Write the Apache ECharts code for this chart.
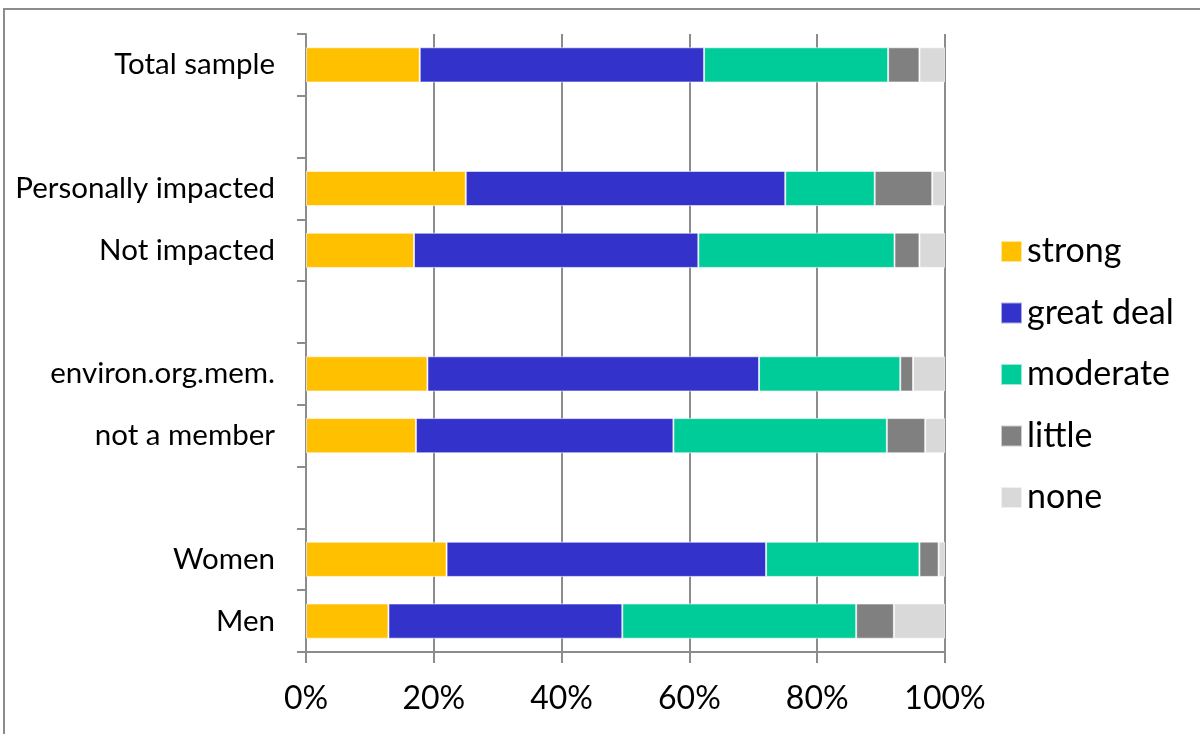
<!DOCTYPE html>
<html>
<head>
<meta charset="utf-8">
<script src="https://cdn.jsdelivr.net/npm/echarts@6/dist/echarts.min.js"></script>
<style>html,body{margin:0;padding:0;background:#fff;}#c{width:1200px;height:734px;}</style>
</head>
<body>
<div id="c"></div>
<script>
const categories = ['Total sample', '', 'Personally impacted', 'Not impacted', ' ', 'environ.org.mem.', 'not a member', '  ', 'Women', 'Men'];
const strong    = [17.8, null, 25.0, 16.9, null, 19.0, 17.2, null, 22.0, 12.9];
const greatDeal = [44.5, null, 50.0, 44.5, null, 51.9, 40.3, null, 50.0, 36.6];
const moderate  = [28.8, null, 14.0, 30.7, null, 22.1, 33.4, null, 24.0, 36.6];
const little    = [4.9,  null, 9.0,  3.9,  null, 2.0,  6.0,  null, 3.0,  5.9];
const none      = [4.0,  null, 2.0,  4.0,  null, 5.0,  3.1,  null, 1.0,  8.0];
const seriesNames = ['strong', 'great deal', 'moderate', 'little', 'none'];
const xTicks = [0, 20, 40, 60, 80, 100];

const colors = ['#FFC000', '#3333CC', '#00CC99', '#808080', '#D9D9D9'];
const FONT = 'Lato';
const chart = echarts.init(document.getElementById('c'), null, {renderer: 'canvas'});
const dataSets = [strong, greatDeal, moderate, little, none];
chart.setOption({
  animation: false,
  backgroundColor: '#fff',
  color: colors,
  textStyle: {fontFamily: FONT},
  graphic: [{
    type: 'rect', silent: true,
    shape: {x: 4, y: 9, width: 1250, height: 800},
    style: {fill: 'none', stroke: '#8c8c8c', lineWidth: 2}
  }],
  grid: {left: 306, right: 255, top: 34, bottom: 82, containLabel: false},
  legend: {
    orient: 'vertical', left: 995, top: 229,
    icon: 'rect', itemWidth: 21, itemHeight: 21, itemGap: 26.5,
    data: seriesNames,
    textStyle: {fontSize: 34, lineHeight: 35, color: '#000', fontFamily: FONT, padding: [0, 0, 0, 0]}
  },
  xAxis: {
    type: 'value', min: 0, max: 100, interval: 20,
    axisLine: {show: true, lineStyle: {color: '#8c8c8c', width: 2}},
    axisTick: {show: true, length: 11, lineStyle: {color: '#8c8c8c', width: 2}},
    splitLine: {show: true, lineStyle: {color: '#8c8c8c', width: 2}},
    axisLabel: {fontSize: 32, color: '#000', margin: 31, fontFamily: FONT,
      formatter: v => xTicks.includes(v) ? v + '%' : ''}
  },
  yAxis: {
    type: 'category', inverse: true, data: categories,
    axisLine: {show: true, lineStyle: {color: '#8c8c8c', width: 2}},
    axisTick: {show: true, length: 9, lineStyle: {color: '#8c8c8c', width: 2}},
    axisLabel: {fontSize: 29.5, color: '#000', margin: 31, fontFamily: FONT}
  },
  series: seriesNames.map((n, i) => ({
    name: n, type: 'bar', stack: 'total', barCategoryGap: '43%',
    data: dataSets[i],
    itemStyle: {color: colors[i], borderColor: 'rgba(255,255,255,0.6)', borderWidth: 1}
  }))
});
</script>
</body>
</html>
